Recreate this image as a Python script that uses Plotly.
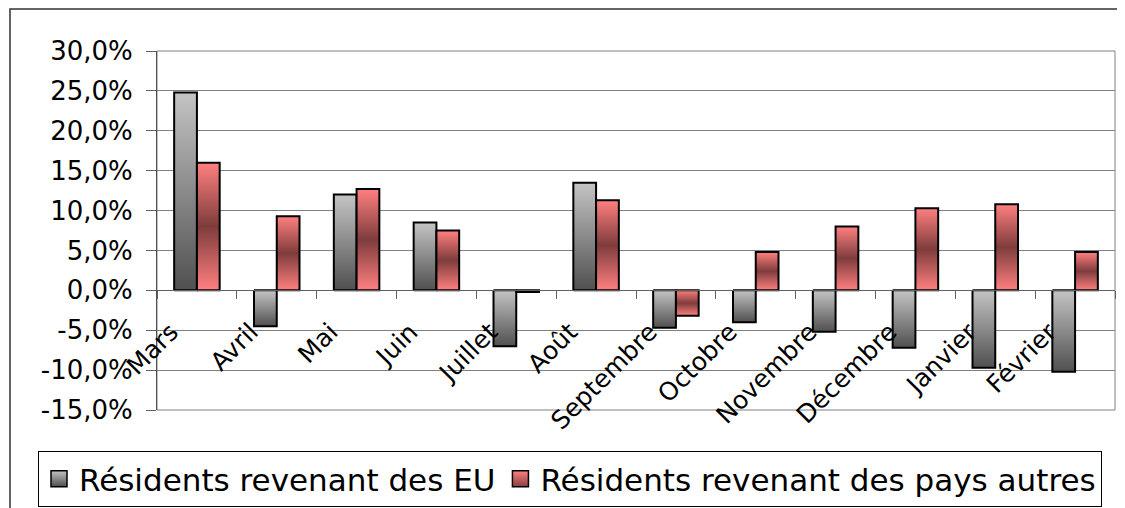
import plotly.graph_objects as go

# Monthly change, residents returning from the US vs other countries (%)
MONTHS = ["Mars", "Avril", "Mai", "Juin", "Juillet", "Août", "Septembre",
          "Octobre", "Novembre", "Décembre", "Janvier", "Février"]
EU_VALUES = [24.8, -4.5, 12.0, 8.5, -7.0, 13.5, -4.7, -4.0, -5.2, -7.2, -9.7, -10.2]
AUTRES_VALUES = [16.0, 9.3, 12.7, 7.5, -0.2, 11.3, -3.2, 4.8, 8.0, 10.3, 10.8, 4.8]

SERIES_NAMES = ["Résidents revenant des EU", "Résidents revenant des pays autres"]

Y_TICK_VALUES = [-15, -10, -5, 0, 5, 10, 15, 20, 25, 30]
Y_TICK_LABELS = ["-15,0%", "-10,0%", "-5,0%", "0,0%", "5,0%", "10,0%",
                 "15,0%", "20,0%", "25,0%", "30,0%"]

FONT = "DejaVu Sans"
BAR_W = 0.285
GREY_SCALE = [[0, "#505050"], [1, "#c4c4c4"]]
RED_SCALE = [[0, "#ff8080"], [0.5, "#7f3c3c"], [1, "#ff8080"]]

fig = go.Figure()


def add_bar(x0, x1, value, scale):
    # one gradient-filled rectangle in data coordinates
    fig.add_trace(go.Scatter(
        x=[x0, x0, x1, x1, x0],
        y=[0, value, value, 0, 0],
        mode="lines",
        fill="toself",
        fillgradient=dict(type="vertical", colorscale=scale),
        line=dict(color="black", width=2),
        showlegend=False,
        hoverinfo="skip",
    ))


for i, (eu, other) in enumerate(zip(EU_VALUES, AUTRES_VALUES)):
    add_bar(i - BAR_W, i, eu, GREY_SCALE)
    add_bar(i, i + BAR_W, other, RED_SCALE)

# legend entries
for name, top, bottom in [(SERIES_NAMES[0], "#c4c4c4", "#505050"),
                          (SERIES_NAMES[1], "#ff8080", "#8a4040")]:
    fig.add_trace(go.Scatter(
        x=[None], y=[None], mode="markers", name=name,
        marker=dict(symbol="square", size=16, color=top,
                    gradient=dict(type="vertical", color=bottom),
                    line=dict(color="black", width=1.5)),
    ))

# the page body adds an 8px offset, so the figure is 8px smaller than the window
fig.update_layout(
    width=1117,
    height=500,
    margin=dict(l=149, r=10, t=43, b=98, autoexpand=False),
    plot_bgcolor="white",
    paper_bgcolor="white",
    font=dict(family=FONT, color="black"),
    xaxis=dict(
        range=[-0.5, len(MONTHS) - 0.5],
        tickvals=list(range(len(MONTHS))),
        ticktext=MONTHS,
        tickangle=-45,
        tickfont=dict(size=25),
        ticks="",
        ticklabelshift=-26,
        ticklabelstandoff=16,
        minor=dict(ticks="outside", tick0=-0.5, dtick=1, ticklen=8,
                   tickcolor="#606060", showgrid=False),
        showgrid=False,
        showline=True,
        linecolor="#606060",
        linewidth=1,
        anchor="free",
        position=1 / 3,
        zeroline=False,
        fixedrange=True,
    ),
    yaxis=dict(
        range=[-15, 30],
        tickvals=Y_TICK_VALUES,
        ticktext=Y_TICK_LABELS,
        tickfont=dict(size=26),
        ticks="outside",
        ticklen=10,
        tickcolor="#606060",
        ticklabelstandoff=8,
        showgrid=True,
        gridcolor="#808080",
        gridwidth=1,
        showline=True,
        linecolor="#505050",
        linewidth=1,
        zeroline=False,
        fixedrange=True,
    ),
    legend=dict(
        orientation="h",
        x=(38 - 157) / 958,
        y=(410 - 451) / 359,
        xanchor="left",
        yanchor="top",
        font=dict(size=31, family=FONT),
        bordercolor="black",
        borderwidth=1,
        bgcolor="white",
        itemwidth=30,
    ),
    shapes=[
        # plot area frame
        dict(type="rect", xref="paper", yref="paper", x0=0, x1=1, y0=0, y1=1,
             line=dict(color="#808080", width=1), layer="below"),
        # outer chart border
        dict(type="rect", xref="paper", yref="paper",
             x0=(10 - 157) / 958, x1=1.05, y0=-0.5, y1=(410 - 9) / 359,
             line=dict(color="#333333", width=1.5)),
    ],
)

fig.write_html("out.html")
